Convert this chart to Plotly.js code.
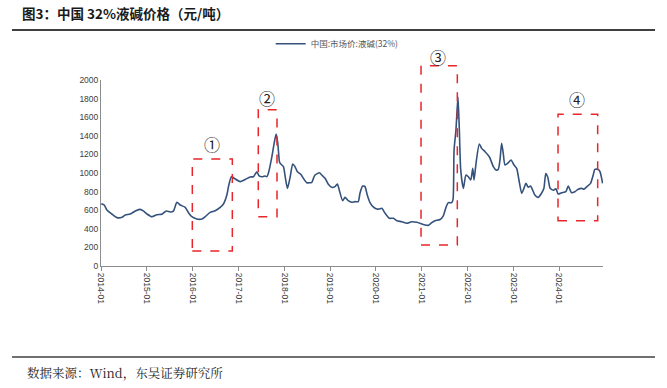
<!DOCTYPE html>
<html>
<head>
<meta charset="utf-8">
<script src="https://cdn.plot.ly/plotly-3.0.1.min.js"></script>
<style>html,body{margin:0;padding:0;background:#fff;}#chart{width:667px;height:388px;}</style>
</head>
<body>
<div id="chart"></div>
<script>
const seriesName = "中国:市场价:液碱(32%)";
const dates = [
"2014-01-03","2014-01-27","2014-02-17","2014-03-28","2014-05-08","2014-06-17","2014-07-13","2014-08-22","2014-10-01","2014-11-04","2014-12-01",
"2015-01-02","2015-02-11","2015-03-23","2015-05-01","2015-06-05","2015-07-07","2015-08-01","2015-08-29","2015-09-24","2015-11-03","2015-11-29","2015-12-26",
"2016-02-04","2016-03-15","2016-04-10","2016-05-20","2016-06-29","2016-08-08","2016-09-03","2016-09-30","2016-10-13","2016-11-05","2016-11-27",
"2017-01-14","2017-02-23","2017-04-04","2017-04-30","2017-05-27","2017-06-14","2017-07-14","2017-08-01","2017-08-15","2017-08-27","2017-09-24","2017-10-12","2017-10-28","2017-11-10","2017-11-23","2017-11-29","2017-12-25",
"2018-01-08","2018-01-26","2018-02-17","2018-03-09","2018-03-27","2018-04-15","2018-05-12","2018-06-07","2018-06-29","2018-08-08","2018-08-21","2018-09-03","2018-10-08","2018-10-27","2018-11-22","2018-12-18",
"2019-01-14","2019-02-09","2019-02-28","2019-03-15","2019-04-11","2019-04-30","2019-05-26","2019-06-22","2019-07-18","2019-08-13","2019-08-27","2019-09-17","2019-10-06","2019-10-24","2019-11-14","2019-12-11",
"2020-01-08","2020-01-28","2020-02-17","2020-03-15","2020-04-18","2020-05-20","2020-06-16","2020-07-25","2020-09-03","2020-10-13","2020-11-22",
"2021-01-01","2021-01-27","2021-02-22","2021-03-21","2021-04-16","2021-05-26","2021-06-21","2021-07-15","2021-07-31","2021-08-27","2021-09-07","2021-09-15","2021-09-30","2021-10-16","2021-10-27","2021-11-07","2021-11-28","2021-12-19",
"2022-01-07","2022-01-26","2022-02-11","2022-02-21","2022-03-09","2022-04-04","2022-04-23","2022-05-20","2022-06-23","2022-07-25","2022-08-15","2022-09-02","2022-09-16","2022-09-29","2022-10-12","2022-10-26","2022-11-21","2022-12-13",
"2023-01-06","2023-01-27","2023-02-14","2023-03-08","2023-03-26","2023-04-11","2023-04-29","2023-05-18","2023-06-03","2023-06-21","2023-07-17","2023-08-13","2023-09-01","2023-09-16","2023-10-02","2023-10-21","2023-11-17","2023-12-05","2023-12-24",
"2024-01-20","2024-02-23","2024-03-13","2024-04-08","2024-05-05","2024-05-31","2024-06-27","2024-07-17","2024-08-14","2024-09-07","2024-09-28","2024-10-11","2024-11-07","2024-11-21","2024-12-12"
];
const prices = [
670,656,602,559,520,523,548,559,591,609,595,
559,530,552,556,591,581,591,685,656,631,573,530,
505,505,530,577,595,631,667,763,853,960,943,
907,930,957,960,1014,968,960,968,960,997,1175,1319,1419,1319,1122,1104,1068,
960,835,960,1097,1068,1014,986,932,896,900,943,978,1003,978,943,878,
846,853,882,817,702,738,702,685,692,692,782,860,853,763,685,635,
613,613,620,566,513,513,487,476,459,476,470,
452,441,437,466,487,500,540,640,681,681,720,1247,1462,1820,1462,1032,835,978,
960,925,1050,925,1104,1312,1265,1229,1175,1068,1032,1039,1140,1319,1212,1086,1111,1140,
1086,1050,925,782,835,889,846,860,817,763,738,782,835,995,955,835,815,830,774,
788,799,860,788,799,825,835,825,860,889,978,1039,1039,1014,889
];
const tickVals = ["2014-01-01","2015-01-01","2016-01-01","2017-01-01","2018-01-01","2019-01-01","2020-01-01","2021-01-01","2022-01-01","2023-01-01","2024-01-01"];
const tickText = ["2014-01","2015-01","2016-01","2017-01","2018-01","2019-01","2020-01","2021-01","2022-01","2023-01","2024-01"];
const boxLabels = ["①","②","③","④"];

const cjk = '"Noto Sans CJK SC", "Noto Sans", sans-serif';
const axisGrey = '#8c8c8c';

const boxes = [
  {x0:0.1819,x1:0.2616,y0:0.0806,y1:0.575, lx:0.2205, ly:0.656},
  {x0:0.3133,x1:0.3506,y0:0.265,y1:0.840, lx:0.330, ly:0.905},
  {x0:0.6375,x1:0.7098,y0:0.113,y1:1.077, lx:0.672, ly:1.125},
  {x0:0.9104,x1:0.9894,y0:0.2435,y1:0.8156, lx:0.949, ly:0.896}
];

const shapes = boxes.map(b => ({
  type:'rect', xref:'paper', yref:'paper', x0:b.x0, x1:b.x1, y0:b.y0, y1:b.y1,
  line:{color:'#e8262b', width:1.5, dash:'dash'}, fillcolor:'rgba(0,0,0,0)'
}));
shapes.push({type:'line', xref:'paper', yref:'paper', x0:-0.1773, x1:1.1036, y0:1.269, y1:1.269, line:{color:'#404040', width:2}});
shapes.push({type:'line', xref:'paper', yref:'paper', x0:-0.1773, x1:1.1036, y0:-0.489, y1:-0.489, line:{color:'#404040', width:1.5}});

const annotations = boxes.map((b,i) => ({
  xref:'paper', yref:'paper', x:b.lx, y:b.ly, text:boxLabels[i], showarrow:false,
  font:{family:cjk, size:16, color:'#222'}, xanchor:'center', yanchor:'middle'
}));
annotations.push({
  xref:'paper', yref:'paper', x:-0.1514, y:-0.575, xanchor:'left', yanchor:'middle',
  text:'数据来源：Wind，东吴证券研究所', showarrow:false,
  font:{family:'"Noto Serif CJK SC", "Liberation Serif", ' + cjk, size:12.5, color:'#222'}
});

const trace = {
  x: dates, y: prices, type:'scatter', mode:'lines', name: seriesName,
  line:{color:'#34527c', width:1.6, shape:'spline', smoothing:0.6}
};

const layout = {
  width:667, height:388,
  margin:{l:101, r:64, t:80, b:122},
  paper_bgcolor:'#fff', plot_bgcolor:'#fff',
  title:{text:'<b>图3：中国 32%液碱价格（元/吨）</b>', xref:'container', yref:'container', x:22/667, y:1-14/388, xanchor:'left', yanchor:'middle',
    font:{family:cjk, size:13.5, color:'#1a1a1a'}},
  showlegend:true,
  legend:{x:0.338, y:1.195, xanchor:'left', yanchor:'middle', orientation:'h', bgcolor:'rgba(0,0,0,0)',
    font:{family:cjk, size:8.5, color:'#555'}, itemwidth:30},
  xaxis:{type:'date', range:['2014-01-01','2024-12-15'], tickvals:tickVals, ticktext:tickText, tickangle:90,
    showgrid:false, zeroline:false, showline:true, linecolor:axisGrey, linewidth:1,
    ticks:'outside', ticklen:4, tickcolor:axisGrey, tickfont:{family:'"Liberation Sans", Arial, sans-serif', size:8.5, color:'#404040'}},
  yaxis:{range:[0,2000], dtick:200, tick0:0, showgrid:false, zeroline:false, showline:true, linecolor:axisGrey, linewidth:1,
    ticks:'', tickfont:{family:'"Liberation Sans", Arial, sans-serif', size:8.5, color:'#404040'}},
  shapes: shapes,
  annotations: annotations
};

Plotly.newPlot('chart', [trace], layout, {staticPlot:true, displayModeBar:false});
</script>
</body>
</html>
